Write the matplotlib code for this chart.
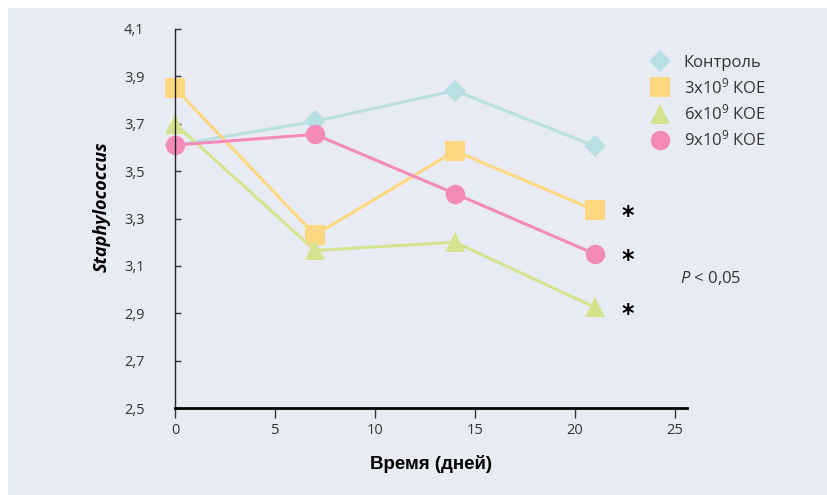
import matplotlib
matplotlib.use("Agg")
import matplotlib.pyplot as plt
from matplotlib.lines import Line2D
from matplotlib.patches import Rectangle

plt.rcParams['font.family'] = ['Open Sans', 'DejaVu Sans']
plt.rcParams['mathtext.fontset'] = 'custom'
plt.rcParams['mathtext.rm'] = 'Open Sans'
plt.rcParams['mathtext.it'] = 'Open Sans:italic'

# data
days = [0, 7, 14, 21]
control = [3.61, 3.71, 3.84, 3.605]
dose3 = [3.85, 3.23, 3.585, 3.335]
dose6 = [3.70, 3.165, 3.20, 2.925]
dose9 = [3.61, 3.655, 3.405, 3.15]
labels = ['Контроль', '3x10$^{9}$ КОЕ', '6x10$^{9}$ КОЕ', '9x10$^{9}$ КОЕ']
star_values = [3.335, 3.15, 2.925]
y_ticks = [2.5, 2.7, 2.9, 3.1, 3.3, 3.5, 3.7, 3.9, 4.1]
x_ticks = [0, 5, 10, 15, 20, 25]

bg = '#e8ebf3'
colors = ['#b8dfe2', '#fed880', '#d5e38f', '#f48ab8']
markers = ['D', 's', '^', 'o']
msizes = [11, 14, 14, 14]
series = [control, dose3, dose6, dose9]

fig = plt.figure(figsize=(8.28, 4.95), dpi=100, facecolor='white')
fig.patches.append(Rectangle((8 / 828, 0), 1, 1 - 8 / 495, transform=fig.transFigure,
                             facecolor=bg, edgecolor='none', zorder=-10))
ax = fig.add_axes([175 / 828, 1 - 408 / 495, (687 - 175) / 828, (408 - 29) / 495])
ax.set_facecolor(bg)

for vals, c, m, ms in zip(series, colors, markers, msizes):
    ax.plot(days, vals, color=c, linewidth=2.2, marker=m, markersize=ms,
            markeredgewidth=0, clip_on=False)

ax.set_xlim(0, 25.6)
ax.set_ylim(2.5, 4.1)
ax.set_xticks(x_ticks)
ax.set_xticklabels([str(t) for t in x_ticks])
ax.set_yticks(y_ticks)
ax.set_yticklabels([f'{t:.1f}'.replace('.', ',') for t in y_ticks])
ax.tick_params(axis='y', direction='in', length=4, width=1, pad=22, labelsize=10.5,
               colors='#333333')
ax.tick_params(axis='x', direction='out', length=7, width=1, pad=4, labelsize=10.5,
               colors='#333333')
for s in ['top', 'right']:
    ax.spines[s].set_visible(False)
ax.spines['left'].set_linewidth(1)
ax.spines['left'].set_color('#222222')
ax.spines['bottom'].set_linewidth(2)
ax.spines['bottom'].set_color('black')

# significance marks
for v in star_values:
    ax.annotate('*', (22.65, v), xytext=(0, -4.5), textcoords='offset points',
                fontsize=17, fontweight='bold', ha='center', va='center',
                annotation_clip=False, family='DejaVu Sans')
ax.text(25.25, 3.05, '$P$ < 0,05', fontsize=12, ha='left', va='center',
        color='#333333', clip_on=False)

ax.set_xlabel('Время (дней)', fontsize=13.5, fontweight='bold', labelpad=12,
              family='Liberation Sans')
ax.set_ylabel('Staphylococcus', fontsize=13, fontweight='bold', style='italic')
ax.yaxis.set_label_coords(-0.125, 0.53)

handles = [Line2D([], [], linestyle='none', marker=m, color=c, markersize=ms,
                  markeredgewidth=0) for c, m, ms in zip(colors, markers, msizes)]
fig.legend(handles, labels, loc='upper left', bbox_to_anchor=(628 / 828, 1 - 40 / 495),
           frameon=False, fontsize=12, handletextpad=0.45, labelspacing=0.38,
           labelcolor='#333333')

fig.savefig('out.png', dpi=100, facecolor=fig.get_facecolor())
